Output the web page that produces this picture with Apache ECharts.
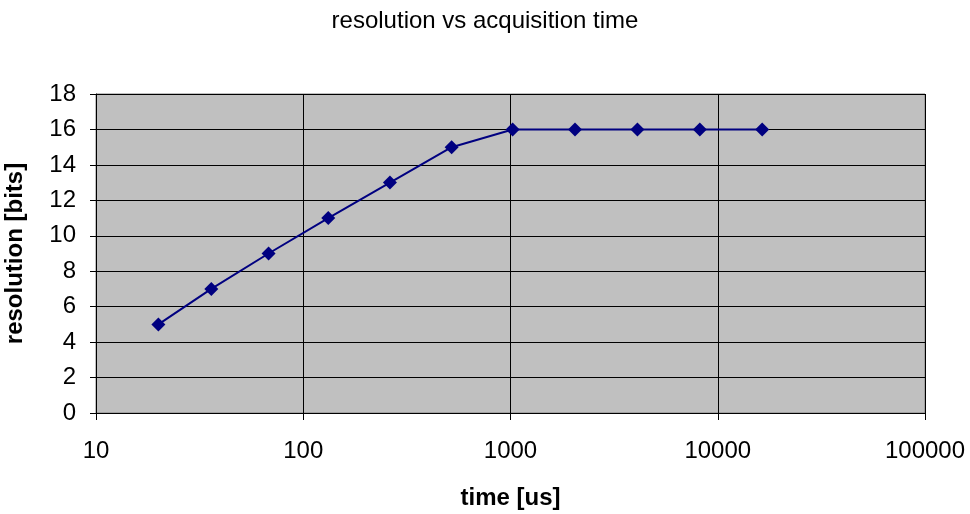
<!DOCTYPE html>
<html>
<head>
<meta charset="utf-8">
<script src="https://cdn.jsdelivr.net/npm/echarts@6/dist/echarts.min.js"></script>
<style>
html,body{margin:0;padding:0;background:#fff;}
#chart{width:970px;height:514px;}
</style>
</head>
<body>
<div id="chart"></div>
<script>
// data
var timeUs = [20, 36, 68, 132, 262, 520, 1024, 2048, 4096, 8192, 16384];
var resolutionBits = [5, 7, 9, 11, 13, 15, 16, 16, 16, 16, 16];
var xTickValues = [10, 100, 1000, 10000, 100000];
var xTickLabels = ['10', '100', '1000', '10000', '100000'];
var yTickLabels = ['0', '2', '4', '6', '8', '10', '12', '14', '16', '18'];

var chart = echarts.init(document.getElementById('chart'), null, {renderer: 'canvas'});
var FONT = '"Liberation Sans", Arial, sans-serif';
var points = timeUs.map(function (t, i) { return [t, resolutionBits[i]]; });

chart.setOption({
  animation: false,
  backgroundColor: '#ffffff',
  title: {
    text: 'resolution vs acquisition time',
    left: 'center',
    top: 4,
    textStyle: {fontFamily: FONT, fontSize: 24, fontWeight: 'normal', color: '#000'}
  },
  grid: {
    left: 96, right: 45, top: 94, bottom: 101,
    containLabel: false,
    outerBoundsMode: 'none',
    show: true, backgroundColor: '#c0c0c0', borderColor: '#808080', borderWidth: 1
  },
  xAxis: {
    type: 'log',
    logBase: 10,
    min: 10,
    max: 100000,
    name: 'time [us]',
    nameLocation: 'middle',
    nameGap: 73,
    nameTextStyle: {fontFamily: FONT, fontSize: 24, fontWeight: 'bold', color: '#000'},
    axisLine: {show: true, lineStyle: {color: '#000', width: 1}},
    axisTick: {show: true, inside: false, length: 7, lineStyle: {color: '#000'}},
    axisLabel: {
      margin: 26,
      hideOverlap: false,
      fontFamily: FONT, fontSize: 24, color: '#000',
      formatter: function (v) {
        for (var i = 0; i < xTickValues.length; i++) {
          if (Math.abs(Math.log10(v) - Math.log10(xTickValues[i])) < 1e-6) return xTickLabels[i];
        }
        return '';
      }
    },
    splitLine: {show: true, lineStyle: {color: '#000', width: 1}},
    minorTick: {show: false},
    minorSplitLine: {show: false}
  },
  yAxis: {
    type: 'value',
    min: 0,
    max: 18,
    interval: 2,
    name: 'resolution [bits]',
    nameLocation: 'middle',
    nameGap: 69,
    nameRotate: 90,
    nameTextStyle: {fontFamily: FONT, fontSize: 24, fontWeight: 'bold', color: '#000'},
    axisLine: {show: true, lineStyle: {color: '#000', width: 1}},
    axisTick: {show: true, inside: false, length: 6, lineStyle: {color: '#000'}},
    axisLabel: {
      margin: 20,
      fontFamily: FONT, fontSize: 24, color: '#000',
      formatter: function (v) { return yTickLabels[Math.round(v / 2)]; }
    },
    splitLine: {show: true, lineStyle: {color: '#000', width: 1}}
  },
  series: [{
    type: 'line',
    data: points,
    symbol: 'diamond',
    symbolSize: 14,
    lineStyle: {color: '#000080', width: 2},
    itemStyle: {color: '#000080'},
    z: 5
  }]
});
</script>
</body>
</html>
